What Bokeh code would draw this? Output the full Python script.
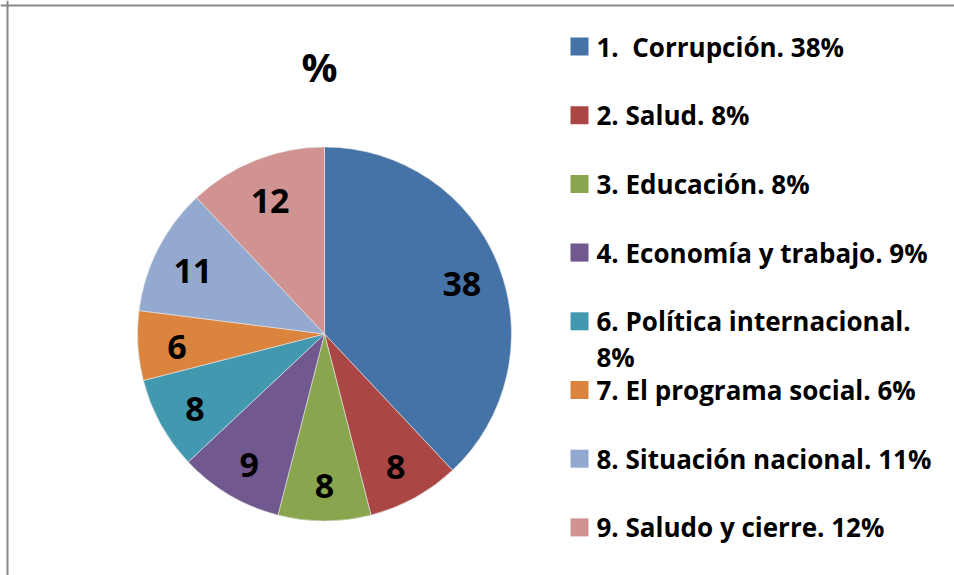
import numpy as np
from bokeh.plotting import figure
from bokeh.models import Range1d, Span
from bokeh.core.properties import value
from bokeh.embed import file_html
from bokeh.resources import INLINE

# ---- data ----
categories = ["1.\u00a0 Corrupción", "2. Salud", "3. Educación", "4. Economía y trabajo",
              "6. Política internacional", "7. El programa social",
              "8. Situación nacional", "9. Saludo y cierre"]
values = [38, 8, 8, 9, 8, 6, 11, 12]
legend_labels = ["1.\u00a0 Corrupción. 38%", "2. Salud. 8%", "3. Educación. 8%",
                 "4. Economía y trabajo. 9%", "6. Política internacional.\n8%",
                 "7. El programa social. 6%", "8. Situación nacional. 11%",
                 "9. Saludo y cierre. 12%"]
colors = ["#4572A7", "#AA4643", "#89A54E", "#71588F", "#4198AF", "#DB843D",
          "#93A9CF", "#D19392"]
title_text = "%"

# ---- layout ----
W, H = 954, 575
FONT = value("Open Sans")
p = figure(width=W, height=H, x_range=Range1d(0, W), y_range=Range1d(0, H),
           output_backend="svg", toolbar_location=None, min_border=0)
p.axis.visible = False
p.grid.visible = False
p.outline_line_color = None
p.background_fill_color = "white"
p.border_fill_color = "white"

# border (only top and left edges visible)
p.add_layout(Span(location=7, dimension="height", line_color="#888888", line_width=2))
p.add_layout(Span(location=H - 5, dimension="width", line_color="#888888", line_width=2))

# pie
cx, cy, R = 324, H - 333.5, 187
frac = np.array(values, dtype=float) / sum(values)
cum = np.concatenate([[0.0], np.cumsum(frac)])
start = np.pi / 2 - cum[:-1] * 2 * np.pi
end = np.pi / 2 - cum[1:] * 2 * np.pi
p.wedge(x=cx, y=cy, radius=R, start_angle=start, end_angle=end, direction="clock",
        fill_color=colors, line_color="#e8e8e8", line_width=0.6)

mid = np.pi / 2 - (cum[:-1] + frac / 2) * 2 * np.pi
r0 = 0.79 * R
lx = cx + r0 * np.cos(mid)
ly = cy + r0 * np.sin(mid) - 4
p.text(x=lx, y=ly, text=[str(v) for v in values], text_font=FONT, text_font_style="bold",
       text_font_size="34px", text_align="center", text_baseline="middle", text_color="black")

# title
p.text(x=[319], y=[H - 66], text=[title_text], text_font=FONT, text_font_style="bold",
       text_font_size="40px", text_align="center", text_baseline="middle", text_color="black")

# legend
step = 68.7
sq_x, sq_y0, sq = 579, 46, 18
ys = [H - (sq_y0 + i * step) for i in range(len(legend_labels))]
p.rect(x=[sq_x] * len(ys), y=ys, width=sq, height=sq, fill_color=colors, line_color=None)
tx, ty, tt = [], [], []
for y, lab in zip(ys, legend_labels):
    for k, line in enumerate(lab.split("\n")):
        tx.append(596)
        ty.append(y - k * 36)
        tt.append(line)
p.text(x=tx, y=ty, text=tt, text_font=FONT, text_font_style="bold", text_font_size="26px",
       text_align="left", text_baseline="middle", text_color="black")

open("out.html", "w").write(file_html(p, INLINE))
